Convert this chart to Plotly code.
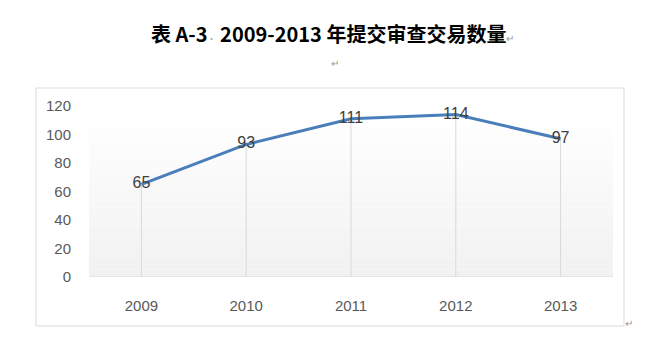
import plotly.graph_objects as go

years = ["2009", "2010", "2011", "2012", "2013"]
counts = [65, 93, 111, 114, 97]
y_ticks = [0, 20, 40, 60, 80, 100, 120]

W, H = 646, 351
L, R, T, B = 89, 613, 106, 277  # plot area pixels


def px(x):
    return (x - L) / (R - L)


def py(y):
    return (B - y) / (B - T)


fig = go.Figure()

# drop lines
fig.add_trace(go.Scatter(
    x=years, y=counts, mode="markers",
    marker=dict(size=1, opacity=0),
    error_y=dict(type="data", symmetric=False, array=[0] * len(counts),
                 arrayminus=counts, color="#d9d9d9", thickness=1, width=0),
    hoverinfo="skip", showlegend=False,
))

fig.add_trace(go.Scatter(
    x=years, y=counts, mode="lines+text",
    line=dict(color="#4a7ebb", width=3),
    text=[str(v) for v in counts], textposition="middle center",
    textfont=dict(family="Liberation Sans", size=16, color="#404040"),
    cliponaxis=False, showlegend=False,
))

shapes = []
# frame
shapes.append(dict(type="rect", xref="paper", yref="paper",
                   x0=px(36), x1=px(624), y0=py(326), y1=py(88),
                   line=dict(color="#d9d9d9", width=1), fillcolor="rgba(0,0,0,0)", layer="below"))
# gradient background
n = 24
top_y, bot_y = 126, 277
for i in range(n):
    y0 = bot_y - (bot_y - top_y) * i / n
    y1 = bot_y - (bot_y - top_y) * (i + 1) / n
    t = i / (n - 1)
    c = int(round(241 + (254 - 241) * t))
    shapes.append(dict(type="rect", xref="paper", yref="paper",
                       x0=0, x1=1, y0=py(y0), y1=py(y1),
                       line=dict(width=0), fillcolor=f"rgb({c},{c},{c})", layer="below"))

annotations = [
    dict(text="<b>表 A-3<span style='color:#aaaaaa;font-size:8px'>·</span> 2009-2013 年提交审查交易数量</b>"
              "<span style='color:#999999;font-size:10px'>↵</span>",
         xref="paper", yref="paper", x=px(332), y=py(33), showarrow=False,
         xanchor="center", yanchor="middle",
         font=dict(family="Noto Sans CJK SC", size=20, color="#000000")),
    dict(text="↵", xref="paper", yref="paper", x=px(335), y=py(63), showarrow=False,
         xanchor="center", yanchor="middle",
         font=dict(family="Noto Sans CJK SC", size=10, color="#999999")),
    dict(text="↵", xref="paper", yref="paper", x=px(629), y=py(322), showarrow=False,
         xanchor="center", yanchor="middle",
         font=dict(family="Noto Sans CJK SC", size=10, color="#999999")),
]

fig.update_layout(
    width=W, height=H,
    margin=dict(l=L, r=W - R, t=T, b=H - B),
    paper_bgcolor="white", plot_bgcolor="rgba(0,0,0,0)",
    shapes=shapes, annotations=annotations,
    showlegend=False,
)
fig.update_xaxes(type="category", range=[-0.5, len(years) - 0.5], showgrid=False, zeroline=False,
                 showline=False, ticks="", ticklabelstandoff=18,
                 tickfont=dict(family="Liberation Sans", size=15, color="#595959"))
fig.update_yaxes(range=[0, 120], tickvals=y_ticks, showgrid=False, zeroline=False,
                 showline=False, ticks="", ticklabelstandoff=17,
                 tickfont=dict(family="Liberation Sans", size=15, color="#595959"))
# axis baseline
fig.add_hline(y=0, line=dict(color="#d9d9d9", width=1))

fig.write_html("out.html")
